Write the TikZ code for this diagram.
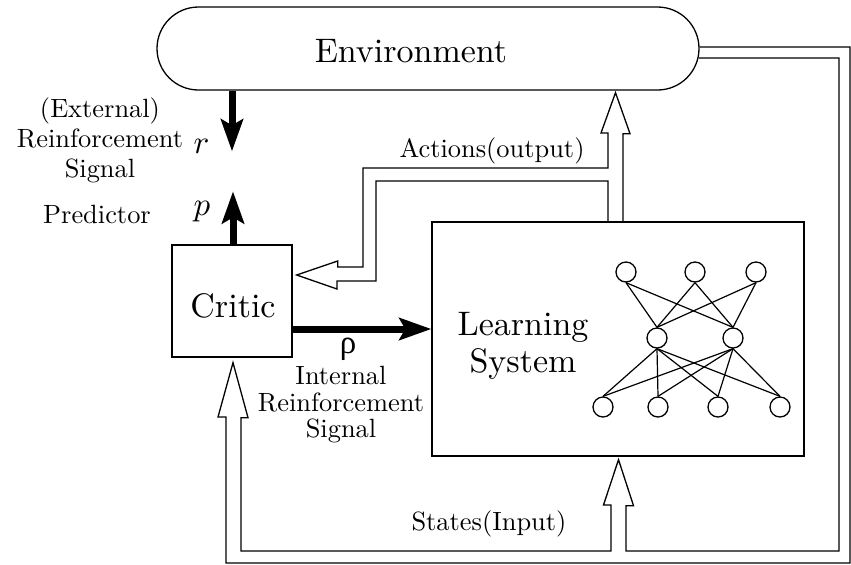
\documentclass[tikz,border=0pt]{standalone}
\usepackage{fontspec}
\newfontfamily\greekfont{Liberation Serif}
\usetikzlibrary{arrows.meta,calc}

\begin{document}
\begin{tikzpicture}[x=0.5pt,y=-0.5pt,
  box/.style={draw, line width=0.65pt, inner sep=0pt},
  pipe/.style={draw, line width=0.65pt, line join=miter},
  signal/.style={line width=3.5pt, -{Stealth[length=16pt,width=11pt,inset=3pt]}},
  big/.style={scale=1.7, inner sep=0pt},
  small/.style={scale=1.32, inner sep=0pt},
  symbol/.style={scale=1.65, inner sep=0pt},
  neuron/.style={circle, draw, line width=0.65pt, minimum size=10pt, inner sep=0pt},
  synapse/.style={line width=0.6pt}]
\useasboundingbox (0,0) rectangle (851,564);

% main blocks
\node[box, rounded corners=20.75pt, minimum width=271pt, minimum height=41.5pt] (env) at (428,48.5) {};
\node[box, minimum width=60pt, minimum height=56pt] (critic) at (232,301) {};
\node[box, minimum width=186pt, minimum height=117pt] (ls) at (618,339) {};

% block texts
\node[big, anchor=base] (envlabel) at (411,62) {Environment};
\node[big, anchor=base] (criticlabel) at (233,317) {Critic};
\node[big, align=center, font=\fontsize{10}{10.9}\selectfont] (lslabel) at (523,346) {Learning\\System};

% neural network inside the learning system
\foreach \n/\x/\y in {t1/626/272, t2/695/272, t3/756/272, m1/657/338, m2/733/338,
                      b1/603/407, b2/658/407, b3/718/407, b4/780/407}
  \node[neuron] (\n) at (\x,\y) {};
\foreach \a in {t1,t2,t3}
  \foreach \b in {m1,m2}
    \draw[synapse] (\a.south) -- (\b.north);
\foreach \a in {m1,m2}
  \foreach \b in {b1,b2,b3,b4}
    \draw[synapse] (\a.south) -- (\b.north);

% scalar signals
\coordinate (rtip) at ($(critic.north)+(0,-93)$);
\coordinate (ptip) at ($(critic.north)+(1,-53)$);
\coordinate (rhostart) at ($(critic.east)+(0,28)$);
\draw[signal] (critic.north |- env.south) -- (rtip);
\draw[signal] ($(critic.north)+(1,0)$) -- (ptip);
\draw[signal] (rhostart) -- (rhostart -| ls.west);

% tips of the hollow arrows
\coordinate (ctip) at ($(critic.south)+(1,5)$);
\coordinate (stip) at ($(ls.south)+(0.5,3)$);
\coordinate (atip) at ($(ls.north |- env.south)+(-2.5,2)$);
\coordinate (ltip) at ($(critic.east)+(4,-26)$);

% state pipe: environment -> learning system and critic
\draw[pipe] ($(env.east)+(0,-1.5)$) -- (850,47) -- (850,563) -- (226,563) -- (226,417)
  -- ++(-8,0) -- (ctip) -- ++(15,55) -- ++(-7,0) -- (241,551) -- (611,551) -- (611,505)
  -- ++(-7.5,0) -- (stip) -- ++(15,46) -- ++(-7.5,0) -- (626,551) -- (839,551)
  -- (839,58) -- ($(env.east)+(-1,9.5)$);

% action pipe: learning system -> environment and critic
\draw[pipe] ($(ls.north)+(-10,0)$) -- (608,181) -- (376,181) -- (376,281) -- (337,281)
  -- ++(0,8) -- (ltip) -- ++(41,-14) -- ++(0,6) -- (363,267) -- (363,168) -- (608,168)
  -- (608,133) -- ++(-7,0) -- (atip) -- ++(14.5,41) -- ++(-7,0) -- ($(ls.north)+(5,0)$);

% labels
\node[small, anchor=base] (actlabel) at (492,157) {Actions(output)};
\node[small, anchor=base] (statelabel) at (489,530) {States(Input)};
\node[small, anchor=base] (predlabel) at (97,223) {Predictor};
\node[small, align=center, font=\fontsize{10}{11.36}\selectfont] (extlabel) at (100,140)
  {(External)\\Reinforcement\\Signal};
\node[symbol, anchor=base] (rlabel) at (201.5,153) {$r$};
\node[symbol, anchor=base] (plabel) at (202,215) {$p$};
\node[symbol] (rholabel) at (348,349) {\greekfont ρ};
\node[small, align=center, font=\fontsize{10}{10.04}\selectfont] (intlabel) at (341,405)
  {Internal\\Reinforcement\\Signal};
\end{tikzpicture}
\end{document}
